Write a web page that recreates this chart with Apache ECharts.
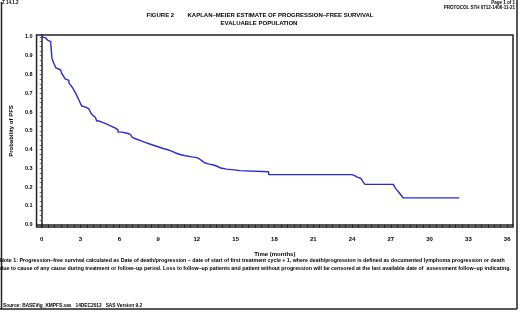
<!DOCTYPE html>
<html>
<head>
<meta charset="utf-8">
<script src="https://cdn.jsdelivr.net/npm/echarts@6/dist/echarts.min.js"></script>
<style>
  html, body { margin: 0; padding: 0; background: #fff; }
  #chart { width: 520px; height: 312px; }
</style>
</head>
<body>
<div id="chart"></div>
<script>
// time (months) at which the estimate steps down, and the new estimate
const eventMonths = [0, 0.15, 0.3, 0.45, 0.6, 0.7, 0.73, 0.76, 0.79, 0.85, 0.92, 1.0, 1.1, 1.25, 1.45, 1.55,
  1.7, 1.8, 1.95, 2.1, 2.25, 2.4, 2.5, 2.6, 2.7, 2.8, 2.9, 3.0, 3.1, 3.25, 3.45, 3.65, 3.8, 3.95, 4.05,
  4.15, 4.25, 4.45, 4.7, 4.95, 5.2, 5.45, 5.7, 5.9, 6.2, 6.6, 6.85, 7.0, 7.15, 7.35, 7.7, 8.0, 8.35,
  8.7, 9.05, 9.4, 9.75, 10.1, 10.35, 10.7, 11.1, 11.6, 12.0, 12.2, 12.4, 12.6, 12.95, 13.3, 13.6,
  13.85, 14.3, 14.9, 15.3, 17.55, 24.0, 24.2, 24.45, 24.7, 24.85, 25.0, 27.2, 27.35, 27.5, 27.65,
  27.8, 27.95, 32.3];
const survival = [1.0, 0.995, 0.99, 0.983, 0.975, 0.96, 0.94, 0.91, 0.885, 0.875, 0.862, 0.85, 0.835, 0.825, 0.817, 0.805,
  0.79, 0.777, 0.768, 0.755, 0.742, 0.728, 0.715, 0.703, 0.69, 0.675, 0.66, 0.645, 0.632, 0.625, 0.617, 0.607, 0.595, 0.582, 0.572,
  0.562, 0.552, 0.545, 0.538, 0.53, 0.522, 0.514, 0.505, 0.493, 0.487, 0.481, 0.474, 0.465, 0.455, 0.446, 0.438, 0.43, 0.422,
  0.414, 0.406, 0.399, 0.391, 0.382, 0.374, 0.367, 0.361, 0.357, 0.35, 0.34, 0.33, 0.323, 0.318, 0.31, 0.302,
  0.296, 0.292, 0.288, 0.282, 0.267, 0.261, 0.252, 0.246, 0.238, 0.228, 0.215, 0.205, 0.195, 0.183, 0.17,
  0.157, 0.143, 0.143];

const xLabels = [0, 3, 6, 9, 12, 15, 18, 21, 24, 27, 30, 33, 36];
const yLabels = [0, 0.1, 0.2, 0.3, 0.4, 0.5, 0.6, 0.7, 0.8, 0.9, 1.0];

const xTicks = [];
for (let i = 0; i <= 72; i++) xTicks.push(i * 0.5);
const yTicks = [];
for (let i = 0; i <= 40; i++) yTicks.push(i * 0.025);

const chart = echarts.init(document.getElementById('chart'));
const txt = { fontFamily: 'Liberation Sans', fontWeight: 'bold', fill: '#000' };

chart.setOption({
  animation: false,
  textStyle: { fontFamily: 'Liberation Sans' },
  grid: {
    left: 33, right: 7, top: 35, bottom: 85,
    show: true, borderColor: '#222', borderWidth: 1.5, backgroundColor: '#fff'
  },
  xAxis: {
    type: 'value',
    min: -0.4,
    max: 36.45,
    name: 'Time (months)',
    nameLocation: 'middle',
    nameGap: 24,
    nameTextStyle: { fontSize: 6, fontWeight: 'bold', color: '#000' },
    axisLine: { show: true, lineStyle: { color: '#222', width: 1.5 } },
    axisTick: { show: true, customValues: xTicks, length: 3, lineStyle: { color: '#222', width: 1 } },
    axisLabel: {
      customValues: xLabels, margin: 9, fontSize: 6, fontWeight: 'bold', color: '#000'
    },
    splitLine: { show: false }
  },
  yAxis: {
    type: 'value',
    min: -0.012,
    max: 1.01,
    name: 'Probability of PFS',
    nameLocation: 'middle',
    nameRotate: 90,
    nameGap: 21,
    nameTextStyle: { fontSize: 6, fontWeight: 'bold', color: '#000' },
    axisLine: { show: true, lineStyle: { color: '#222', width: 1.5 } },
    axisTick: { show: true, customValues: yTicks, length: 2, lineStyle: { color: '#444', width: 0.8 } },
    axisLabel: {
      customValues: yLabels, margin: 4, fontSize: 5.5, fontWeight: 'bold', color: '#000',
      formatter: v => v.toFixed(1)
    },
    splitLine: { show: false }
  },
  series: [{
    type: 'line',
    step: 'end',
    symbol: 'none',
    data: eventMonths.map((t, i) => [t, survival[i]]),
    lineStyle: { color: '#2b2bd6', width: 1.4 }
  }],
  graphic: [
    { type: 'line', shape: { x1: 1.5, y1: 2, x2: 1.5, y2: 309 }, style: { stroke: '#222', lineWidth: 1.5 } },
    { type: 'line', shape: { x1: 517, y1: 0, x2: 517, y2: 309 }, style: { stroke: '#222', lineWidth: 1.5 } },
    { type: 'line', shape: { x1: 0, y1: 309, x2: 517, y2: 309 }, style: { stroke: '#222', lineWidth: 1.5 } },
    { type: 'text', left: 2, top: 0, style: Object.assign({ text: 'Z 14.1.2', fontSize: 4.5 }, txt) },
    { type: 'text', right: 5, top: 0, style: Object.assign({ text: 'Page 1 of 1', fontSize: 4.5 }, txt) },
    { type: 'text', right: 5, top: 5, style: Object.assign({ text: 'PROTOCOL STH 0712-1406-11-21', fontSize: 4.5 }, txt) },
    { type: 'text', x: 260, y: 15, style: Object.assign({ text: 'FIGURE 2        KAPLAN\u2013MEIER ESTIMATE OF PROGRESSION\u2013FREE SURVIVAL', fontSize: 6, textAlign: 'center', textVerticalAlign: 'middle' }, txt) },
    { type: 'text', x: 259, y: 23, style: Object.assign({ text: 'EVALUABLE POPULATION', fontSize: 6, textAlign: 'center', textVerticalAlign: 'middle' }, txt) },
    { type: 'text', x: 0, y: 261, style: Object.assign({ text: 'Note 1: Progression\u2013free survival calculated as Date of death/progression \u2013 date of start of first treatment cycle + 1, where death/progression is defined as documented lymphoma progression or death', fontSize: 5.3, textVerticalAlign: 'middle' }, txt) },
    { type: 'text', x: 0, y: 269, style: Object.assign({ text: 'due to cause of any cause during treatment or follow\u2013up period. Loss to follow\u2013up patients and patient without progression will be censored at the last available date of  assessment follow\u2013up indicating.', fontSize: 5.3, textVerticalAlign: 'middle' }, txt) },
    { type: 'text', x: 3, y: 306, style: Object.assign({ text: 'Source: BASE\\fig_KMPFS.sas   14DEC2012   SAS Version 9.2', fontSize: 4.8, textVerticalAlign: 'middle' }, txt) }
  ]
});
</script>
</body>
</html>
